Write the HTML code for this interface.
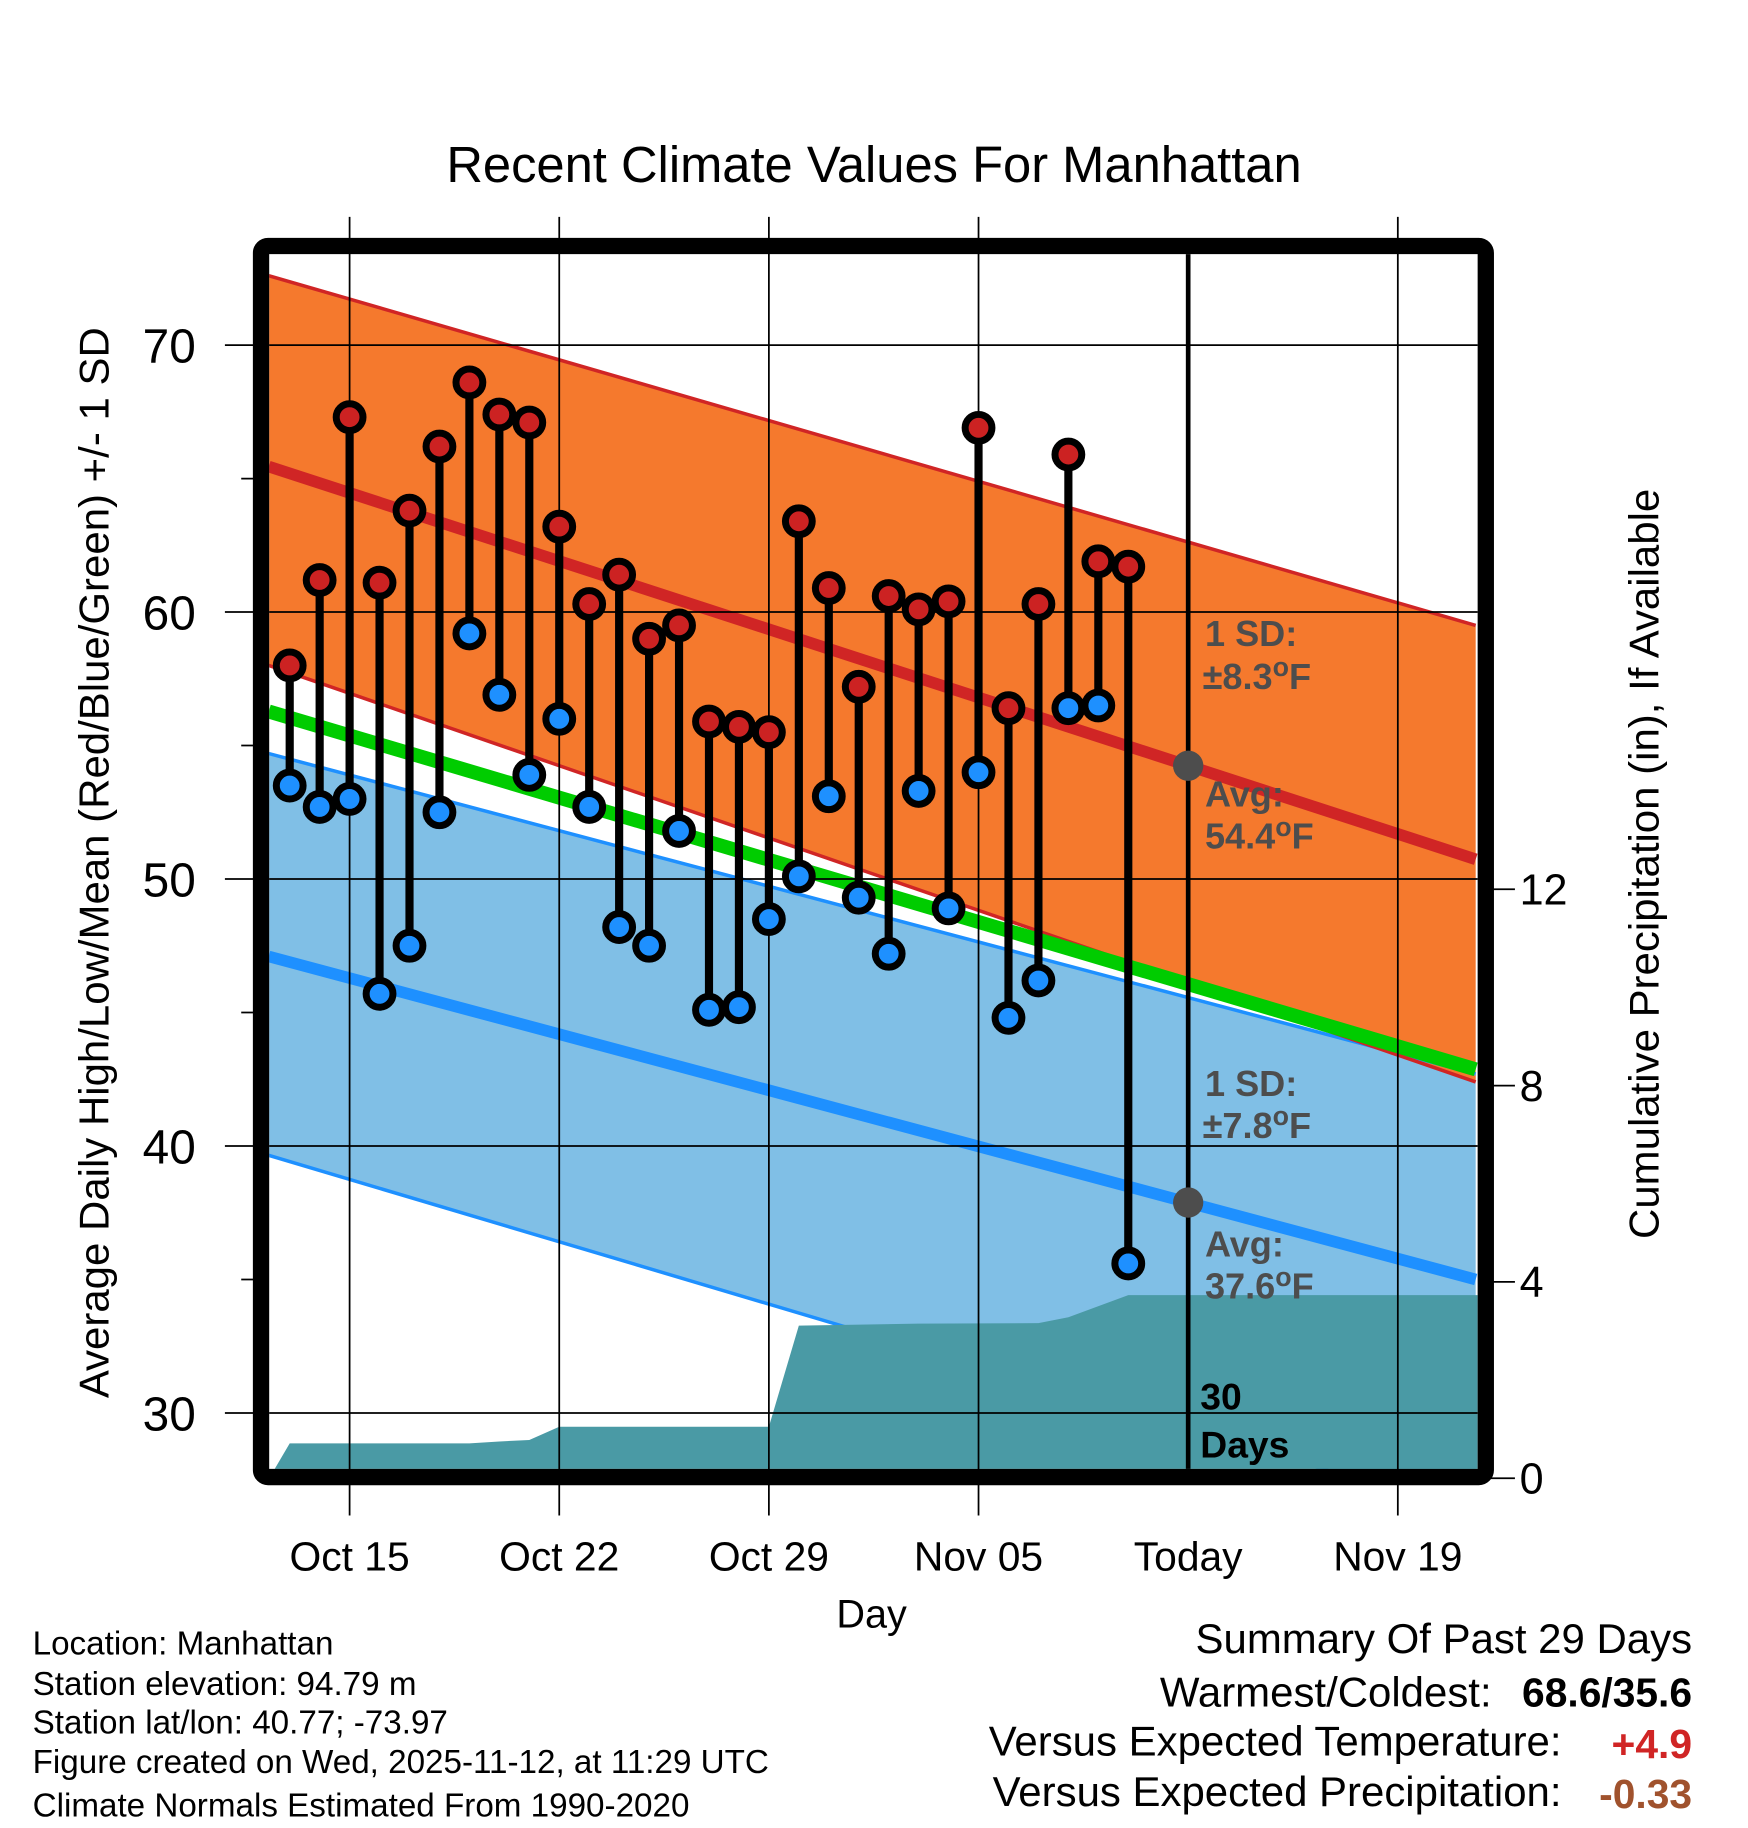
<!DOCTYPE html>
<html><head><meta charset="utf-8"><style>
html,body{margin:0;padding:0;background:#fff;}
svg{display:block;font-family:"Liberation Sans",sans-serif;}
</style></head><body>
<svg id="chart" width="1748" height="1828" viewBox="0 0 1500 1568" preserveAspectRatio="none" xmlns="http://www.w3.org/2000/svg"></svg>
<script>
// ---- data ----
const days = [13,14,15,16,17,18,19,20,21,22,23,24,25,26,27,28,29,30,31,32,33,34,35,36,37,38,39,40,41]; // days since Sep 30 (Oct 13 .. Nov 10)
const highs = [58.0,61.2,67.3,61.1,63.8,66.2,68.6,67.4,67.1,63.2,60.3,61.4,59.0,59.5,55.9,55.7,55.5,63.4,60.9,57.2,60.6,60.1,60.4,66.9,56.4,60.3,65.9,61.9,61.7];
const lows  = [53.5,52.7,53.0,45.7,47.5,52.5,59.2,56.9,53.9,56.0,52.7,48.2,47.5,51.8,45.1,45.2,48.5,50.1,53.1,49.3,47.2,53.3,48.9,54.0,44.8,46.2,56.4,56.5,35.6];
const precipDays = [13,19,20,21,22,29,30,34,38,39,41];
const precipVals = [0.71,0.71,0.75,0.78,1.05,1.05,3.11,3.15,3.16,3.28,3.73];
const normalDays = [12.3,52.6];
const normalHigh = [65.45,50.74];
const normalLow  = [47.1,35.0];
const highUpper = [72.6,59.5];
const highLower = [58.0,42.4];
const lowUpper  = [54.7,42.7];
const lowLower  = [39.65,26.2];
const todayDay = 43;
const xTickDays = [15,22,29,36,43,50];
const xTickLabels = ["Oct 15","Oct 22","Oct 29","Nov 05","Today","Nov 19"];
const yTicks = [30,40,50,60,70];
const yMinorTicks = [35,45,55,65];
const precipTicks = [0,4,8,12];

// ---- axes ----
const PL=231, PR=1268, PT=218, PB=1260;
const X = d => 300 + (d-15)*25.7;
const Y = v => 296 + (70-v)*22.9;
const YP = p => 1268 - p*42.1;
const lerpN = (arr, d) => arr[0] + (arr[1]-arr[0])*(d-normalDays[0])/(normalDays[1]-normalDays[0]);

const svg = document.getElementById('chart');
const NS = 'http://www.w3.org/2000/svg';
function mk(tag, attrs, parent){
  const e = document.createElementNS(NS, tag);
  for (const k in attrs) e.setAttribute(k, attrs[k]);
  (parent||svg).appendChild(e);
  return e;
}
const dL = normalDays[0], dR = normalDays[1];
function bandPath(up, lo){
  return `M${X(dL)},${Y(lerpN(up,dL))} L${X(dR)},${Y(lerpN(up,dR))} L${X(dR)},${Y(lerpN(lo,dR))} L${X(dL)},${Y(lerpN(lo,dL))} Z`;
}
const clip = mk('clipPath',{id:'pc'});
mk('rect',{x:PL,y:PT,width:PR-PL,height:PB-PT},clip);
const g = mk('g',{'clip-path':'url(#pc)'});

let e = mk('path',{d:bandPath(lowUpper,lowLower),fill:'#80bfe6'},g);
 
e = mk('path',{d:bandPath(highUpper,highLower),fill:'#f5792d'},g);
 
function nline(arr, color, w, name){
  const l = mk('line',{x1:X(dL),y1:Y(lerpN(arr,dL)),x2:X(dR),y2:Y(lerpN(arr,dR)),stroke:color,'stroke-width':w},g);
  
  
}
nline(lowUpper,'#1e90ff',3,'low-sd-upper-line');
nline(lowLower,'#1e90ff',3,'low-sd-lower-line');
nline(highUpper,'#d02525',3,'high-sd-upper-line');
nline(highLower,'#d02525',3,'high-sd-lower-line');

xTickDays.forEach(d=>{ if(d!==todayDay){ const l=mk('line',{x1:X(d),y1:186,x2:X(d),y2:1300,stroke:'#000','stroke-width':1.5});
    }});
yTicks.forEach(v=>{ const l=mk('line',{x1:PL,y1:Y(v),x2:PR,y2:Y(v),stroke:'#000','stroke-width':1.5});
    });

let pd = `M${PL},${PB+8} L${PL},${YP(0)} `;
precipDays.forEach((d,i)=>{ pd += `L${X(d)},${YP(precipVals[i])} `; });
pd += `L${PR},${YP(precipVals[precipVals.length-1])} L${PR},${PB+8} Z`;
e = mk('path',{d:pd,fill:'#4a9aa5'},g);
 

nline(normalHigh,'#d02525',10,'normal-high-line');
nline(normalLow,'#1e90ff',10,'normal-low-line');
const meanArr=[(normalHigh[0]+normalLow[0])/2,(normalHigh[1]+normalLow[1])/2];
nline(meanArr,'#00cc00',12,'normal-mean-line');

e = mk('line',{x1:X(todayDay),y1:PT,x2:X(todayDay),y2:PB,stroke:'#000','stroke-width':4});
 
e = mk('circle',{cx:X(todayDay),cy:Y(lerpN(normalHigh,todayDay)),r:13,fill:'#4d4d4d'});
 
e = mk('circle',{cx:X(todayDay),cy:Y(lerpN(normalLow,todayDay)),r:13,fill:'#4d4d4d'});
 

function txt(x,y,s,attrs,name){
  const t = mk('text',Object.assign({x:x,y:y},attrs));
  t.innerHTML = s;
  
  
  return t;
}
const ann = {'font-size':31,'font-weight':'bold',fill:'#4d4d4d'};
const deg = '<tspan dy="-11" font-size="23">o</tspan><tspan dy="11">F</tspan>';
txt(1034,554,'1 SD:',ann,'high-sd-label');
txt(1032,591,'±8.3'+deg,ann,'high-sd-value');
txt(1034,692,'Avg:',ann,'high-avg-label');
txt(1034,728,'54.4'+deg,ann,'high-avg-value');
txt(1034,940,'1 SD:',ann,'low-sd-label');
txt(1032,976,'±7.8'+deg,ann,'low-sd-value');
txt(1034,1078,'Avg:',ann,'low-avg-label');
txt(1034,1114,'37.6'+deg,ann,'low-avg-value');
txt(1030,1209,'30',{'font-size':32,'font-weight':'bold',fill:'#000'},'days-count');
txt(1030,1250,'Days',{'font-size':32,'font-weight':'bold',fill:'#000'},'days-label');

days.forEach((d,i)=>{
  const x=X(d);
  const s=mk('line',{x1:x,y1:Y(highs[i]),x2:x,y2:Y(lows[i]),stroke:'#000','stroke-width':7});
   
  const h=mk('circle',{cx:x,cy:Y(highs[i]),r:11.5,fill:'#cc2222',stroke:'#000','stroke-width':6});
   
  const l=mk('circle',{cx:x,cy:Y(lows[i]),r:11.5,fill:'#1e90ff',stroke:'#000','stroke-width':6});
   
});

e = mk('rect',{x:224,y:211,width:1051,height:1056,rx:6,fill:'none',stroke:'#000','stroke-width':14});
 

yTicks.forEach(v=>{
  const t=mk('line',{x1:193,y1:Y(v),x2:224,y2:Y(v),stroke:'#000','stroke-width':1.5});
   
  txt(168,Y(v)+15,String(v),{'font-size':41,'text-anchor':'end'},'y-tick-label');
});
yMinorTicks.forEach(v=>{
  const t=mk('line',{x1:207,y1:Y(v),x2:224,y2:Y(v),stroke:'#000','stroke-width':1.5});
   
});
precipTicks.forEach(p=>{
  const t=mk('line',{x1:1275,y1:YP(p),x2:1300,y2:YP(p),stroke:'#000','stroke-width':1.5});
   
  txt(1304,YP(p)+13,String(p),{'font-size':37},'precip-tick-label');
});
xTickDays.forEach((d,i)=>{
  txt(X(d),1347,xTickLabels[i],{'font-size':35,'text-anchor':'middle'},'x-tick-label');
});

txt(750,156,'Recent Climate Values For Manhattan',{'font-size':43.5,'text-anchor':'middle'},'chart-title');
txt(748,1396,'Day',{'font-size':34,'text-anchor':'middle'},'x-axis-title');
txt(0,0,'Average Daily High/Low/Mean (Red/Blue/Green) +/- 1 SD',{'font-size':36,'text-anchor':'middle',transform:'translate(93,740) rotate(-90)'},'y-axis-title');
txt(0,0,'Cumulative Precipitation (in), If Available',{'font-size':36,'text-anchor':'middle',transform:'translate(1423,741) rotate(-90)'},'precip-axis-title');

const foot={'font-size':28.5};
txt(28,1419,'Location: Manhattan',foot,'location-info');
txt(28,1454,'Station elevation: 94.79 m',foot,'elevation-info');
txt(28,1487,'Station lat/lon: 40.77; -73.97',foot,'latlon-info');
txt(28,1521,'Figure created on Wed, 2025-11-12, at 11:29 UTC',foot,'created-info');
txt(28,1558,'Climate Normals Estimated From 1990-2020',foot,'normals-info');

const sm={'font-size':36,'text-anchor':'end'};
txt(1452,1418,'Summary Of Past 29 Days',sm,'summary-title');
txt(1280,1464,'Warmest/Coldest:',sm,'warmest-coldest-label');
txt(1452,1464,'68.6/35.6',{'font-size':35,'text-anchor':'end','font-weight':'bold'},'warmest-coldest-value');
txt(1340,1506,'Versus Expected Temperature:',sm,'temp-anomaly-label');
txt(1452,1508,'+4.9',{'font-size':35,'text-anchor':'end','font-weight':'bold',fill:'#d02525'},'temp-anomaly-value');
txt(1340,1549,'Versus Expected Precipitation:',sm,'precip-anomaly-label');
txt(1452,1551,'-0.33',{'font-size':35,'text-anchor':'end','font-weight':'bold',fill:'#a0522d'},'precip-anomaly-value');
</script>
</body></html>
